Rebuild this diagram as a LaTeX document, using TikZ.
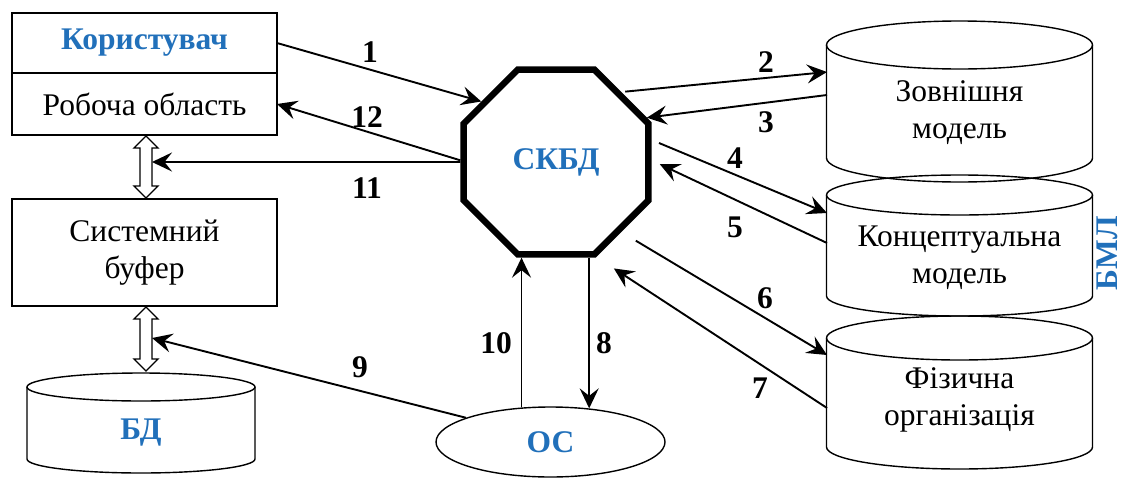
\documentclass[tikz,border=0pt]{standalone}
\usepackage{fontspec}
\setmainfont{Liberation Serif}
\usetikzlibrary{shapes.geometric,arrows.meta,calc}
\definecolor{titleblue}{RGB}{33,112,186}

% drum outline: centre x, top-ellipse y, bottom-ellipse y, x radius, y radius
\newcommand\drumshape[5]{%
  \draw[outline] (#1,#2) ellipse[x radius=#4, y radius=#5];
  \draw[outline] (#1-#4,#2) -- (#1-#4,#3)
     arc[start angle=180, end angle=0, x radius=#4, y radius=#5] -- (#1+#4,#2);
}
% vertical double arrow: centre x, top y, bottom y
\newcommand\busarrow[3]{%
  \draw[outline, fill=white] (#1,#2) -- (#1+12,#2+12) -- (#1+6,#2+12) -- (#1+6,#3-12)
     -- (#1+12,#3-12) -- (#1,#3) -- (#1-12,#3-12) -- (#1-6,#3-12) -- (#1-6,#2+12)
     -- (#1-12,#2+12) -- cycle;
}

\begin{document}
\begin{tikzpicture}[x=1pt,y=-1pt,
  every node/.style={font=\fontsize{31.5}{37}\selectfont},
  outline/.style={line width=1.4pt},
  panel/.style={draw, line width=1.4pt, minimum width=265pt, inner sep=0pt, outer sep=0pt, align=center},
  drumlabel/.style={minimum width=265pt, minimum height=60pt, inner sep=0pt, outer sep=0pt, align=center},
  title/.style={text=titleblue, font=\fontsize{31.5}{37}\selectfont\bfseries},
  num/.style={font=\fontsize{31.5}{37}\selectfont\bfseries, inner sep=1pt},
  arr/.style={line width=1.9pt, -{Stealth[length=20pt,width=19pt,inset=7.5pt]}}]

\useasboundingbox (0,0) rectangle (1124,477);

% left column
\node[panel, minimum height=60pt, title] (kor) at (144.5,43) {Користувач};
\node[panel, minimum height=62pt] (rob) at (144.5,104) {Робоча область};
\node[panel, minimum height=107pt] (buf) at (144.5,252.5) {Системний\\буфер};

\busarrow{146}{136}{198}
\busarrow{146}{307}{371}
\coordinate (da1r) at (152,162);
\coordinate (da2r) at (152,338);

\drumshape{141}{387}{459}{114}{14}
\node[drumlabel, title] (bd) at (141,433) {БД};

% DBMS core
\node[draw, line width=6.5pt, regular polygon, regular polygon sides=8,
      minimum size=200pt, inner sep=0pt, title] (sk) at (556,162) {СКБД};

% operating system
\node[draw, ellipse, line width=1.4pt, minimum width=229pt, minimum height=70pt,
      inner sep=0pt, title] (os) at (550.5,442) {ОС};

% model levels
\drumshape{959.5}{45}{158}{133}{24}
\drumshape{959.5}{195}{296}{133}{20}
\drumshape{959.5}{338}{447}{133}{22}
\node[drumlabel] (zm) at (959.5,113) {Зовнішня\\модель};
\node[drumlabel] (km) at (959.5,258) {Концептуальна\\модель};
\node[drumlabel] (fo) at (959.5,400) {Фізична\\організація};
\node[title, rotate=90, inner sep=0pt] (bml) at (1107,253) {БМЛ};

% connectors
\draw[arr] (kor.east) -- (sk.141);
\draw[arr] (sk.179) -- (rob.east);
\draw[arr] (sk.west) -- (da1r);

\draw[arr, shorten <=4pt] (sk.47) -- ([yshift=41pt]zm.west);
\draw[arr] ([yshift=18pt]zm.west) -- (sk.26);
\draw[arr, shorten <=8pt] (sk.13) -- ([yshift=45pt]km.west);
\draw[arr, shorten >=9pt] ([yshift=15pt]km.west) -- (sk.1);
\draw[arr, shorten <=17pt] (sk.-47) -- ([yshift=45pt]fo.west);
\draw[arr, shorten >=21pt] ([yshift=-8pt]fo.west) -- (sk.-67);

\draw[arr] (os.130) -- (os.130 |- sk.south);
\draw[arr] (os.41 |- sk.south) -- (os.41);
\draw[arr] (os.164) -- (da2r);

% connector numbers
\node[num] (n1) at (370,52) {1};
\node[num] (n2) at (766,62) {2};
\node[num] (n3) at (766,122) {3};
\node[num] (n4) at (735,158) {4};
\node[num] (n5) at (735,227) {5};
\node[num] (n6) at (765,298) {6};
\node[num] (n7) at (760,388) {7};
\node[num] (n8) at (604,343) {8};
\node[num] (n9) at (360,367) {9};
\node[num] (n10) at (496,343) {10};
\node[num] (n11) at (367,188) {11};
\node[num] (n12) at (367,117) {12};
\end{tikzpicture}
\end{document}
